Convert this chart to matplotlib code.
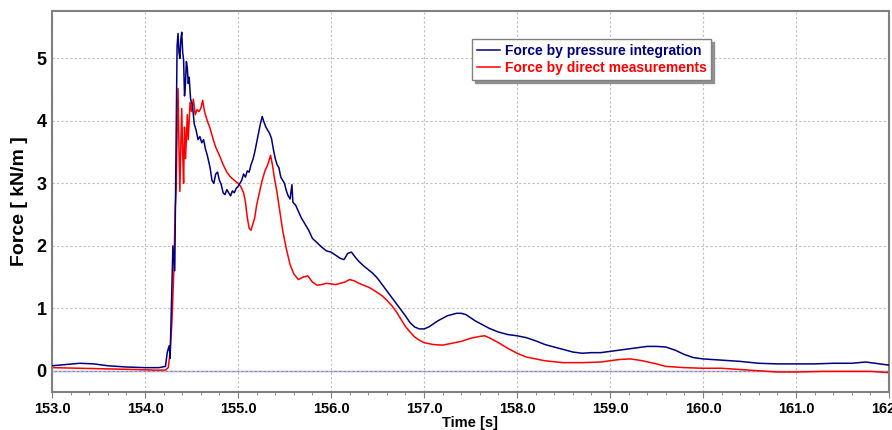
import numpy as np
import matplotlib
matplotlib.use('Agg')
import matplotlib.pyplot as plt
from matplotlib.ticker import MultipleLocator, FormatStrFormatter

# force by pressure integration (blue)
t_press = [153.00, 153.15, 153.30, 153.45, 153.60, 153.80, 154.00, 154.15, 154.22, 154.24,
           154.26, 154.27, 154.29, 154.30, 154.31, 154.32, 154.33, 154.345, 154.355, 154.365,
           154.375, 154.385, 154.395, 154.405, 154.415, 154.425, 154.435, 154.445, 154.455, 154.465,
           154.475, 154.49, 154.51, 154.53, 154.55, 154.57, 154.59, 154.61, 154.63, 154.65,
           154.67, 154.70, 154.72, 154.74, 154.76, 154.78, 154.80, 154.82, 154.84, 154.86,
           154.88, 154.90, 154.92, 154.94, 154.96, 154.98, 155.00, 155.02, 155.04, 155.06,
           155.08, 155.10, 155.12, 155.14, 155.16, 155.18, 155.20, 155.22, 155.24, 155.26,
           155.28, 155.30, 155.32, 155.34, 155.36, 155.38, 155.40, 155.42, 155.44, 155.46,
           155.48, 155.50, 155.52, 155.54, 155.56, 155.58, 155.59, 155.62, 155.65, 155.68,
           155.72, 155.76, 155.80, 155.85, 155.90, 155.95, 156.00, 156.05, 156.10, 156.14,
           156.18, 156.22, 156.26, 156.30, 156.35, 156.40, 156.45, 156.50, 156.55, 156.60,
           156.65, 156.70, 156.75, 156.80, 156.85, 156.90, 156.95, 157.00, 157.05, 157.10,
           157.15, 157.20, 157.25, 157.30, 157.35, 157.40, 157.45, 157.50, 157.55, 157.60,
           157.65, 157.70, 157.75, 157.80, 157.85, 157.90, 157.95, 158.00, 158.10, 158.20,
           158.30, 158.40, 158.50, 158.60, 158.70, 158.80, 158.90, 159.00, 159.10, 159.20,
           159.30, 159.40, 159.50, 159.60, 159.70, 159.80, 159.90, 160.00, 160.20, 160.40,
           160.60, 160.80, 161.00, 161.20, 161.40, 161.60, 161.75, 161.85, 162.00]
f_press = [0.08, 0.10, 0.12, 0.11, 0.08, 0.06, 0.05, 0.05, 0.07, 0.30,
           0.40, 0.20, 1.40, 2.00, 1.80, 1.60, 3.00, 5.20, 5.40, 5.10,
           5.00, 5.30, 5.42, 5.10, 4.98, 4.40, 4.60, 4.95, 4.85, 4.60,
           4.70, 4.35, 4.25, 3.95, 3.85, 3.70, 3.75, 3.65, 3.70, 3.55,
           3.45, 3.25, 3.05, 3.00, 3.15, 3.18, 3.05, 2.98, 2.85, 2.82,
           2.90, 2.85, 2.80, 2.88, 2.85, 2.92, 2.95, 3.00, 3.05, 3.15,
           3.10, 3.20, 3.18, 3.30, 3.38, 3.50, 3.65, 3.80, 3.95, 4.07,
           3.98, 3.90, 3.85, 3.80, 3.72, 3.55, 3.40, 3.30, 3.25, 3.10,
           3.05, 3.00, 2.88, 2.80, 2.75, 2.98, 2.70, 2.65, 2.55, 2.45,
           2.35, 2.25, 2.12, 2.05, 1.98, 1.92, 1.90, 1.85, 1.80, 1.78,
           1.88, 1.90, 1.82, 1.75, 1.68, 1.62, 1.56, 1.48, 1.38, 1.28,
           1.18, 1.08, 0.98, 0.88, 0.77, 0.70, 0.67, 0.67, 0.70, 0.75,
           0.80, 0.84, 0.88, 0.90, 0.92, 0.92, 0.90, 0.85, 0.80, 0.76,
           0.72, 0.68, 0.65, 0.62, 0.60, 0.58, 0.57, 0.56, 0.53, 0.48,
           0.42, 0.38, 0.34, 0.30, 0.28, 0.29, 0.29, 0.31, 0.33, 0.35,
           0.37, 0.39, 0.39, 0.38, 0.33, 0.26, 0.21, 0.19, 0.17, 0.15,
           0.12, 0.11, 0.11, 0.11, 0.12, 0.12, 0.14, 0.12, 0.09]

# force by direct measurements (red)
t_direct = [153.00, 153.30, 153.60, 153.90, 154.10, 154.22, 154.25, 154.27, 154.29, 154.31,
            154.325, 154.335, 154.345, 154.355, 154.365, 154.375, 154.385, 154.395, 154.405, 154.415,
            154.425, 154.435, 154.445, 154.455, 154.465, 154.475, 154.485, 154.50, 154.52, 154.54,
            154.56, 154.58, 154.60, 154.62, 154.64, 154.67, 154.70, 154.73, 154.76, 154.80,
            154.84, 154.88, 154.92, 154.96, 155.00, 155.03, 155.06, 155.08, 155.10, 155.12,
            155.14, 155.16, 155.18, 155.20, 155.23, 155.26, 155.29, 155.32, 155.35, 155.37,
            155.39, 155.42, 155.45, 155.48, 155.52, 155.56, 155.60, 155.65, 155.70, 155.75,
            155.80, 155.85, 155.90, 155.95, 156.00, 156.05, 156.10, 156.15, 156.20, 156.25,
            156.30, 156.35, 156.40, 156.45, 156.50, 156.55, 156.60, 156.65, 156.70, 156.75,
            156.80, 156.85, 156.90, 156.95, 157.00, 157.10, 157.20, 157.30, 157.40, 157.50,
            157.60, 157.65, 157.70, 157.80, 157.90, 158.00, 158.10, 158.20, 158.30, 158.50,
            158.70, 158.90, 159.00, 159.10, 159.22, 159.35, 159.50, 159.60, 159.80, 160.00,
            160.20, 160.40, 160.60, 160.80, 161.00, 161.30, 161.60, 161.80, 162.00]
f_direct = [0.05, 0.04, 0.03, 0.02, 0.01, 0.01, 0.05, 0.30, 0.80, 1.60,
            2.60, 2.90, 3.80, 4.52, 3.60, 2.87, 3.60, 4.20, 3.50, 3.00,
            3.90, 3.40, 3.70, 4.10, 3.70, 4.00, 4.30, 4.15, 4.35, 4.10,
            4.18, 4.15, 4.20, 4.33, 4.15, 4.00, 3.88, 3.72, 3.58, 3.45,
            3.30, 3.18, 3.10, 3.05, 3.00, 2.95, 2.85, 2.70, 2.45, 2.28,
            2.25, 2.35, 2.45, 2.65, 2.85, 3.05, 3.20, 3.30, 3.45, 3.30,
            3.10, 2.85, 2.55, 2.25, 1.95, 1.70, 1.55, 1.46, 1.50, 1.52,
            1.42, 1.37, 1.38, 1.40, 1.39, 1.38, 1.40, 1.42, 1.46, 1.44,
            1.40, 1.37, 1.34, 1.30, 1.25, 1.20, 1.13, 1.05, 0.95, 0.83,
            0.71, 0.62, 0.54, 0.49, 0.45, 0.42, 0.41, 0.44, 0.47, 0.52,
            0.55, 0.56, 0.53, 0.45, 0.36, 0.28, 0.22, 0.19, 0.16, 0.13,
            0.13, 0.14, 0.16, 0.18, 0.19, 0.16, 0.11, 0.07, 0.05, 0.04,
            0.04, 0.02, 0.00, -0.02, -0.02, -0.01, -0.01, -0.01, -0.03]

labels = ['Force by pressure integration', 'Force by direct measurements']

plt.rcParams['font.family'] = ['Liberation Sans', 'DejaVu Sans']
plt.rcParams['font.weight'] = 'bold'

fig = plt.figure(figsize=(8.92, 4.30), dpi=100)
ax = fig.add_axes([52/892, 1 - 392/430, (889 - 52)/892, (392 - 11)/430])

ax.axhline(0, color='#8080c8', lw=1.0, zorder=1)
ax.plot(t_press, f_press, color='#000080', lw=1.1, label=labels[0], zorder=3)
ax.plot(t_direct, f_direct, color='#ff0000', lw=1.1, label=labels[1], zorder=2)

ax.set_xlim(153.0, 162.0)
ax.set_ylim(-0.34, 5.76)
ax.xaxis.set_major_locator(MultipleLocator(1.0))
ax.xaxis.set_minor_locator(MultipleLocator(0.2))
ax.xaxis.set_major_formatter(FormatStrFormatter('%.1f'))
ax.yaxis.set_major_locator(MultipleLocator(1.0))

ax.grid(True, which='major', color='#c0c0c0', linestyle=(0, (2, 2)), lw=0.8)
for s in ax.spines.values():
    s.set_color('#808080')
    s.set_linewidth(1.5)

ax.tick_params(axis='x', which='major', length=4, color='#808080', labelsize=10.5, pad=3)
ax.tick_params(axis='x', which='minor', length=2, color='#808080')
ax.tick_params(axis='y', which='major', length=0, labelsize=13, pad=4)
for lab in ax.get_xticklabels() + ax.get_yticklabels():
    lab.set_fontweight('bold')

ax.set_xlabel('Time [s]', fontsize=10.5, fontweight='bold', labelpad=0)
ax.set_ylabel('Force [ kN/m ]', fontsize=14, fontweight='bold', labelpad=6)

leg = ax.legend(loc='upper left', bbox_to_anchor=(472/892, 1 - 39/430),
                bbox_transform=fig.transFigure, borderaxespad=0,
                fancybox=False, shadow={'color': '#909090', 'alpha': 1.0},
                framealpha=1, edgecolor='#808080', handlelength=1.7,
                handletextpad=0.3, borderpad=0.35, labelspacing=0.25,
                prop={'weight': 'bold', 'size': 10}, labelcolor='linecolor')
leg.get_frame().set_linewidth(1.0)

fig.savefig('out.png', dpi=100)
